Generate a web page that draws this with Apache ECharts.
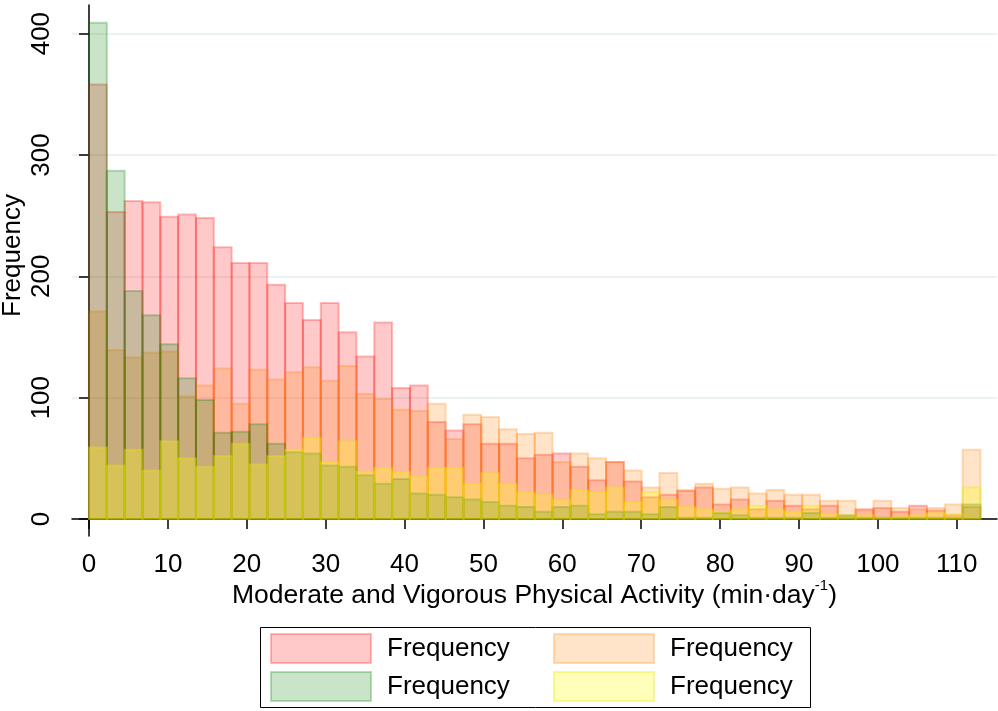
<!DOCTYPE html>
<html>
<head>
<meta charset="utf-8">
<script src="https://cdn.jsdelivr.net/npm/echarts@6/dist/echarts.min.js"></script>
<style>
  html, body { margin: 0; padding: 0; background: #fff; }
  #chart { width: 998px; height: 711px; }
</style>
</head>
<body>
<div id="chart"></div>
<script>
// histogram bins: 50 bins of equal width starting at 0
const BIN_WIDTH = 2.26;
const xTicks = [0, 10, 20, 30, 40, 50, 60, 70, 80, 90, 100, 110];
const yTicks = [0, 100, 200, 300, 400];

const redCounts = [358, 253, 262, 261, 249, 251, 248, 224, 211, 211,
  193, 178, 164, 178, 154, 134, 162, 108, 110, 80, 73,
  78, 62, 62, 50, 53, 54, 43, 32, 47, 31,
  18, 20, 23, 26, 12, 16, 8, 15, 11, 8, 11,
  2, 8, 9, 6, 11, 7, 3, 10];
const orangeCounts = [171, 139, 133, 137, 138, 101, 110, 124, 95, 123,
  115, 121, 125, 114, 126, 103, 99, 90, 89, 95, 66,
  86, 84, 74, 70, 71, 47, 54, 50, 47, 40,
  26, 38, 24, 29, 25, 26, 21, 24, 20, 20, 15,
  15, 7, 15, 9, 8, 9, 12, 57];
const greenCounts = [409, 287, 188, 168, 144, 116, 98, 71, 72, 78,
  62, 55, 54, 44, 43, 36, 29, 33, 21, 20, 18,
  16, 14, 11, 10, 6, 10, 11, 4, 6, 6,
  4, 10, 1, 1, 5, 3, 1, 1, 1, 5, 1,
  3, 1, 1, 1, 1, 1, 1, 12];
const yellowCounts = [59, 44, 57, 40, 64, 50, 43, 52, 62, 45,
  52, 57, 67, 47, 64, 39, 42, 39, 35, 42, 42,
  29, 38, 29, 22, 20, 16, 24, 22, 26, 14,
  22, 16, 10, 8, 6, 8, 11, 8, 6, 11, 4,
  3, 3, 1, 2, 3, 5, 4, 26];

const FONT = "'Liberation Sans', Arial, sans-serif";

const histos = [
  { name: 'red', counts: redCounts, fill: 'rgba(255,0,0,0.21)', stroke: 'rgba(255,0,0,0.26)' },
  { name: 'orange', counts: orangeCounts, fill: 'rgba(255,128,0,0.21)', stroke: 'rgba(255,128,0,0.26)' },
  { name: 'green', counts: greenCounts, fill: 'rgba(0,128,0,0.21)', stroke: 'rgba(0,128,0,0.26)' },
  { name: 'yellow', counts: yellowCounts, fill: 'rgba(255,255,0,0.27)', stroke: 'rgba(230,230,0,0.33)' }
];

function binData(counts) {
  return counts.map((v, i) => [i * BIN_WIDTH, (i + 1) * BIN_WIDTH, v]);
}

function makeSeries(h) {
  return {
    type: 'custom',
    name: h.name,
    data: binData(h.counts),
    encode: { x: [0, 1], y: 2 },
    itemStyle: { color: h.fill, borderColor: h.stroke, borderWidth: 2 },
    renderItem(params, api) {
      const top = api.coord([api.value(0), api.value(2)]);
      const base = api.coord([api.value(1), 0]);
      return {
        type: 'rect',
        shape: { x: top[0], y: top[1], width: base[0] - top[0], height: base[1] - top[1] },
        style: { fill: h.fill, stroke: h.stroke, lineWidth: 2 }
      };
    }
  };
}

const legendPos = [[270, 633], [553, 633], [270, 671], [553, 671]];

const chart = echarts.init(document.getElementById('chart'));
chart.setOption({
  backgroundColor: '#fff',
  animation: false,
  grid: { left: 72, right: 1, top: 5, bottom: 175, outerBoundsMode: 'none', containLabel: false },
  xAxis: {
    type: 'value',
    min: -2.155,
    max: 115.1,
    name: 'Moderate and Vigorous Physical Activity (min·day{sup|-1})',
    nameLocation: 'middle',
    nameGap: 42,
    nameMoveOverlap: false,
    nameTextStyle: {
      fontFamily: FONT, fontSize: 26.5, color: '#000',
      rich: { sup: { fontFamily: FONT, fontSize: 15, color: '#000', verticalAlign: 'top', padding: [0, 0, 20, 0] } }
    },
    axisLine: { lineStyle: { color: '#000', width: 1.5 } },
    axisTick: { length: 10, lineStyle: { color: '#000', width: 1.5 }, customValues: xTicks },
    axisLabel: { customValues: xTicks, fontFamily: FONT, fontSize: 26, color: '#000', margin: 16 },
    splitLine: { show: false }
  },
  yAxis: {
    type: 'value',
    min: -14,
    max: 423.6,
    name: 'Frequency',
    nameLocation: 'middle',
    nameGap: 46,
    nameMoveOverlap: false,
    nameTextStyle: { fontFamily: FONT, fontSize: 26, color: '#000', padding: [0, 0, 0, 30] },
    axisLine: { show: true, lineStyle: { color: '#000', width: 1.5 } },
    axisTick: { show: true, length: 10, lineStyle: { color: '#000', width: 1.5 }, customValues: yTicks },
    axisLabel: { customValues: yTicks, rotate: 90, fontFamily: FONT, fontSize: 26, color: '#000', margin: 17 },
    splitLine: { show: true, lineStyle: { color: '#e4eef0', width: 1.5 } }
  },
  legend: histos.map((h, i) => ({
    left: legendPos[i][0],
    top: legendPos[i][1],
    padding: 0,
    icon: 'rect',
    itemWidth: 100,
    itemHeight: 29,
    selectedMode: false,
    formatter: () => 'Frequency',
    textStyle: { fontFamily: FONT, fontSize: 26, color: '#000', padding: [0, 0, 0, 11] },
    data: [{ name: h.name, itemStyle: { color: h.fill, borderColor: h.stroke, borderWidth: 2 } }]
  })),
  graphic: [{
    type: 'rect',
    shape: { x: 260.5, y: 627.5, width: 550, height: 80 },
    style: { fill: 'none', stroke: '#000', lineWidth: 1 }
  }],
  series: histos.map(makeSeries)
});
</script>
</body>
</html>
